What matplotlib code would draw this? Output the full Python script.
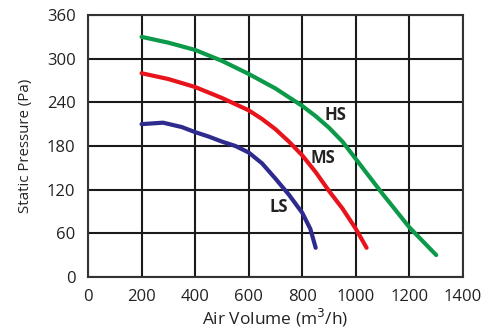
import numpy as np
import matplotlib.pyplot as plt

plt.rcParams['font.family'] = ['Open Sans', 'DejaVu Sans']

# curves
hs_x = [200, 300, 400, 500, 600, 700, 800, 850, 900, 950, 1000, 1050, 1100, 1200, 1300]
hs_y = [330, 322, 312, 297, 279, 259, 235, 221, 205, 186, 162, 138, 114, 68, 30]
ms_x = [200, 300, 400, 500, 600, 650, 700, 750, 800, 850, 900, 950, 1000, 1040]
ms_y = [280, 272, 261, 246, 229, 217, 203, 186, 167, 144, 118, 94, 66, 40]
ls_x = [200, 280, 350, 400, 450, 500, 550, 600, 650, 700, 750, 800, 830, 850]
ls_y = [210, 212, 206, 199, 193, 186, 180, 171, 156, 135, 113, 88, 66, 40]

xticks = [0, 200, 400, 600, 800, 1000, 1200, 1400]
yticks = [0, 60, 120, 180, 240, 300, 360]

fig = plt.figure(figsize=(5, 3.34), dpi=100)
ax = fig.add_axes([0.176, 0.171, 0.75, 0.784])

ax.set_xlim(0, 1400)
ax.set_ylim(0, 360)
ax.set_xticks(xticks)
ax.set_yticks(yticks)
ax.grid(True, color='#1a1a1a', lw=1.5)
ax.set_axisbelow(True)
for s in ax.spines.values():
    s.set_color('#333333')
    s.set_linewidth(1.5)
ax.tick_params(length=0, labelsize=12, pad=9, colors='#222222')

ax.plot(hs_x, hs_y, color='#0c9a4a', lw=3, solid_capstyle='round', solid_joinstyle='round')
ax.plot(ms_x, ms_y, color='#e8141c', lw=3, solid_capstyle='round', solid_joinstyle='round')
ax.plot(ls_x, ls_y, color='#2e2a8e', lw=3, solid_capstyle='round', solid_joinstyle='round')

ax.text(922, 222, 'HS', fontsize=12, fontweight='bold', ha='center', va='center', color='#222222')
ax.text(877, 163, 'MS', fontsize=12, fontweight='bold', ha='center', va='center', color='#222222')
ax.text(713, 96, 'LS', fontsize=12, fontweight='bold', ha='center', va='center', color='#222222')

ax.set_xlabel('Air Volume (m$^3$/h)', fontsize=12.5, labelpad=1, color='#222222')
ax.set_ylabel('Static Pressure (Pa)', fontsize=10.8, labelpad=10, color='#222222')

fig.savefig('out.png', dpi=100)
